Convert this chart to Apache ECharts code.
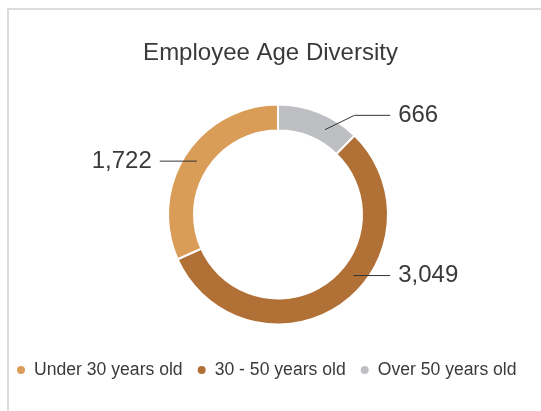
<!DOCTYPE html>
<html>
<head>
<meta charset="utf-8">
<script src="https://cdn.jsdelivr.net/npm/echarts@6/dist/echarts.min.js"></script>
<style>
  html, body { margin: 0; padding: 0; background: #fff; overflow: hidden; }
  #frame { position: absolute; left: 7px; top: 8px; width: 600px; height: 500px;
           border-left: 2px solid #dcdcdc; border-top: 2px solid #dcdcdc; }
  #chart { position: absolute; left: 0; top: 0; width: 541px; height: 411px; }
</style>
</head>
<body>
<div id="frame"></div>
<div id="chart"></div>
<script>
// slices in drawing order, clockwise from 12 o'clock
var sliceNames = ['Over 50 years old', '30 - 50 years old', 'Under 30 years old'];
var sliceValues = [666, 3049, 1722];
var sliceColors = ['#BEBFC2', '#B07036', '#D99D58'];
// legend order
var legendNames = ['Under 30 years old', '30 - 50 years old', 'Over 50 years old'];
// leader lines: radial part, horizontal part, vertical nudge of the label,
// and where (degrees) a slanted leader leaves the ring (null = straight across)
var lineLen1 = [10, 8, 1];
var lineLen2 = [72, 52, 36];
var labelShiftY = [0, -25, 0];
var anchorDeg = [61, null, null];
var slantDeg = 26;

var fontName = '"Liberation Sans", Arial, sans-serif';
var cx = 278, cy = 214.5, rMid = 97;

var ringData = sliceNames.map(function (n, i) {
  return { name: n, value: sliceValues[i], itemStyle: { color: sliceColors[i] } };
});
var labelData = sliceNames.map(function (n, i) {
  return {
    name: n, value: sliceValues[i],
    labelLine: { length: lineLen1[i], length2: lineLen2[i] }
  };
});

var option = {
  animation: false,
  title: {
    text: 'Employee Age Diversity',
    left: 'center',
    top: 41,
    padding: 0,
    textStyle: { fontFamily: fontName, fontSize: 24, fontWeight: 'normal', color: '#3a3a3a' }
  },
  legend: {
    data: legendNames,
    left: 15,
    top: 361,
    padding: 0,
    icon: 'circle',
    itemWidth: 14,
    itemHeight: 10,
    itemGap: 13,
    textStyle: { fontFamily: fontName, fontSize: 17.6, color: '#3a3a3a', padding: [0, 0, 0, 1] }
  },
  series: [
    {
      name: 'ring',
      type: 'pie',
      center: [cx, cy],
      radius: [84, 110],
      startAngle: 90,
      clockwise: true,
      avoidLabelOverlap: false,
      label: { show: false },
      labelLine: { show: false },
      itemStyle: { borderColor: '#fff', borderWidth: 2 },
      emphasis: { disabled: true },
      data: ringData
    },
    {
      name: 'labels',
      type: 'pie',
      silent: true,
      z: 5,
      center: [cx, cy],
      radius: [0, rMid],
      startAngle: 90,
      clockwise: true,
      avoidLabelOverlap: false,
      itemStyle: { color: 'rgba(0,0,0,0)' },
      label: {
        show: true,
        position: 'outside',
        distanceToLabelLine: 8,
        fontFamily: fontName,
        fontSize: 24,
        color: '#3a3a3a',
        formatter: function (p) { return p.value.toLocaleString('en-US'); }
      },
      labelLine: { show: true, smooth: false, lineStyle: { color: '#333', width: 1 } },
      labelLayout: function (p) {
        var i = p.dataIndex;
        var pts = p.labelLinePoints;
        if (!pts) return {};
        var ly = pts[2][1] + labelShiftY[i];
        var ex = pts[2][0];
        var side = ex > cx ? 1 : -1;
        if (anchorDeg[i] != null) {
          var a = anchorDeg[i] * Math.PI / 180;
          var sx = cx + rMid * Math.cos(a);
          var sy = cy - rMid * Math.sin(a);
          var bx = sx + side * (sy - ly) / Math.tan(slantDeg * Math.PI / 180);
          return { y: ly, labelLinePoints: [[sx, sy], [bx, ly], [ex, ly]] };
        }
        // straight leader from the ring's midline
        var hx = cx + side * Math.sqrt(rMid * rMid - (ly - cy) * (ly - cy));
        return { y: ly, labelLinePoints: [[hx, ly], [hx, ly], [ex, ly]] };
      },
      emphasis: { disabled: true },
      data: labelData
    }
  ]
};

var myChart = echarts.init(document.getElementById('chart'));
myChart.setOption(option);
</script>
</body>
</html>
